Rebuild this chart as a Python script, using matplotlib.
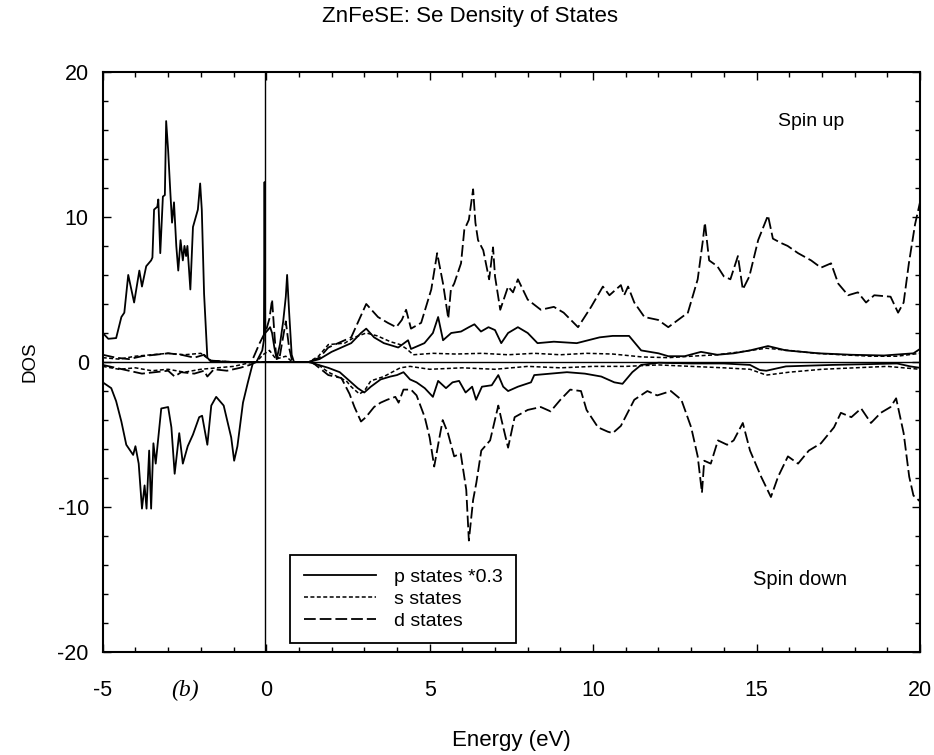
import numpy as np
import matplotlib
matplotlib.use("Agg")
import matplotlib.pyplot as plt
from matplotlib.ticker import MultipleLocator

plt.rcParams['font.family'] = ['Liberation Sans', 'DejaVu Sans']
plt.rcParams['axes.unicode_minus'] = False

# Se partial densities of states in ZnFeSe, (energy eV, DOS) pairs
p_up = [(-5.0, 2.0), (-4.83, 1.6), (-4.59, 1.65), (-4.43, 3.1), (-4.34, 3.4), (-4.22, 6.0),
        (-4.04, 4.1), (-3.88, 6.3), (-3.80, 5.2), (-3.67, 6.6), (-3.52, 7.0), (-3.48, 7.2),
        (-3.43, 10.5), (-3.33, 10.7), (-3.30, 11.2), (-3.24, 7.5), (-3.16, 11.4), (-3.10, 11.5),
        (-3.06, 16.6), (-3.00, 14.6), (-2.93, 11.6), (-2.88, 9.6), (-2.82, 11.0), (-2.75, 8.0),
        (-2.69, 6.3), (-2.62, 8.4), (-2.55, 7.0), (-2.50, 8.0), (-2.45, 7.3), (-2.41, 8.0),
        (-2.32, 5.0), (-2.24, 9.3), (-2.09, 10.5), (-2.02, 12.3), (-1.97, 10.5), (-1.90, 4.7),
        (-1.80, 0.3), (-1.70, 0.05), (-1.0, 0.0), (-0.30, 0.0), (-0.12, 0.8), (-0.07, 1.5),
        (-0.05, 12.4), (-0.03, 2.0), (0.05, 2.2), (0.12, 2.4), (0.18, 2.0), (0.25, 1.0),
        (0.32, 0.2), (0.42, 1.2), (0.52, 2.8), (0.60, 4.5), (0.64, 6.0), (0.70, 3.5),
        (0.78, 0.5), (0.85, 0.0), (1.30, 0.0), (1.63, 0.2), (2.0, 0.7), (2.3, 1.0),
        (2.6, 1.3), (2.9, 2.0), (3.06, 2.3), (3.3, 1.7), (3.6, 1.3), (4.04, 1.0),
        (4.34, 1.5), (4.43, 0.9), (4.84, 1.3), (5.1, 2.0), (5.26, 3.1), (5.41, 1.5),
        (5.66, 2.0), (5.96, 2.1), (6.2, 2.4), (6.37, 2.6), (6.57, 2.1), (6.8, 2.4),
        (7.0, 2.2), (7.19, 1.3), (7.4, 2.0), (7.7, 2.4), (8.0, 2.0), (8.3, 1.3),
        (8.8, 1.4), (9.5, 1.3), (10.2, 1.7), (10.6, 1.8), (11.1, 1.8), (11.47, 0.8),
        (12.0, 0.6), (12.3, 0.4), (12.8, 0.4), (13.3, 0.7), (13.8, 0.5), (14.3, 0.6),
        (14.8, 0.8), (15.35, 1.1), (15.9, 0.8), (16.4, 0.7), (16.9, 0.6), (17.9, 0.5),
        (18.9, 0.45), (19.8, 0.6), (20.0, 0.9)]

s_up = [(-5.0, 0.3), (-4.5, 0.2), (-4.0, 0.4), (-3.5, 0.5), (-3.0, 0.6), (-2.5, 0.5),
        (-2.0, 0.6), (-1.7, 0.1), (-1.0, 0.0), (-0.3, 0.0), (-0.1, 0.5), (0.1, 0.8),
        (0.3, 0.2), (0.6, 0.4), (0.8, 0.0), (1.3, 0.0), (1.6, 0.4), (1.9, 1.2),
        (2.4, 1.3), (2.7, 1.7), (3.06, 2.0), (3.4, 1.8), (3.8, 1.4), (4.1, 1.2),
        (4.3, 0.9), (4.5, 0.5), (5.1, 0.6), (5.8, 0.55), (6.6, 0.6), (7.4, 0.5),
        (8.2, 0.6), (9.0, 0.5), (9.8, 0.6), (10.6, 0.55), (11.5, 0.35), (12.3, 0.3),
        (13.0, 0.4), (13.8, 0.5), (14.5, 0.7), (15.3, 0.95), (16.0, 0.8), (16.8, 0.6),
        (17.6, 0.5), (18.5, 0.4), (19.3, 0.4), (20.0, 0.6)]

d_up = [(-5.0, 0.5), (-4.6, 0.3), (-4.2, 0.2), (-3.8, 0.4), (-3.4, 0.5), (-3.0, 0.6),
        (-2.6, 0.5), (-2.2, 0.3), (-1.9, 0.5), (-1.7, 0.1), (-1.0, 0.0), (-0.45, 0.0),
        (-0.2, 1.3), (0.0, 2.2), (0.1, 3.0), (0.18, 4.3), (0.25, 2.0), (0.30, 0.5),
        (0.40, 0.2), (0.50, 1.5), (0.60, 2.8), (0.70, 1.0), (0.80, 0.0), (1.3, 0.0),
        (1.63, 0.3), (1.9, 1.0), (2.3, 1.4), (2.6, 1.7), (2.8, 2.7), (3.06, 4.0),
        (3.42, 3.1), (3.72, 2.7), (3.98, 2.4), (4.15, 2.9), (4.28, 3.6), (4.43, 2.3),
        (4.74, 2.7), (5.05, 5.0), (5.23, 7.5), (5.41, 5.4), (5.57, 3.0), (5.65, 5.0),
        (5.75, 5.4), (5.96, 6.8), (6.06, 9.1), (6.2, 9.8), (6.33, 11.9), (6.40, 9.6),
        (6.48, 8.4), (6.64, 7.7), (6.82, 5.7), (6.94, 7.9), (7.0, 5.9), (7.16, 3.6),
        (7.4, 5.2), (7.55, 4.8), (7.7, 5.7), (8.0, 4.3), (8.4, 3.6), (8.8, 3.8),
        (9.1, 3.4), (9.54, 2.4), (9.94, 3.8), (10.3, 5.2), (10.5, 4.6), (10.85, 5.3),
        (10.95, 4.6), (11.07, 5.2), (11.26, 4.1), (11.57, 3.1), (11.99, 2.9), (12.3, 2.4),
        (12.6, 2.9), (12.9, 3.4), (13.2, 5.7), (13.36, 8.4), (13.42, 9.6), (13.55, 7.0),
        (13.8, 6.6), (14.0, 5.9), (14.2, 5.7), (14.43, 7.3), (14.58, 5.0), (14.78, 5.9),
        (15.05, 8.4), (15.35, 10.1), (15.5, 8.5), (15.75, 8.2), (15.95, 8.0), (16.27, 7.5),
        (16.67, 7.0), (16.97, 6.5), (17.28, 6.8), (17.5, 5.4), (17.8, 4.6), (18.1, 4.8),
        (18.35, 4.1), (18.6, 4.6), (19.1, 4.5), (19.33, 3.4), (19.5, 4.1), (19.66, 6.8),
        (19.85, 9.5), (20.0, 11.0)]

p_down = [(-5.0, -1.4), (-4.74, -1.8), (-4.59, -2.7), (-4.43, -4.1), (-4.28, -5.7), (-4.07, -6.4),
          (-4.0, -5.8), (-3.9, -7.0), (-3.8, -10.1), (-3.72, -8.5), (-3.66, -10.1), (-3.58, -6.1),
          (-3.52, -10.1), (-3.45, -5.6), (-3.38, -7.0), (-3.21, -3.2), (-3.0, -3.1), (-2.9, -4.5),
          (-2.8, -7.7), (-2.66, -4.9), (-2.55, -7.0), (-2.4, -5.8), (-2.24, -5.0), (-2.05, -3.8),
          (-1.96, -3.7), (-1.80, -5.7), (-1.68, -3.0), (-1.53, -2.4), (-1.3, -3.0), (-1.07, -5.2),
          (-0.98, -6.8), (-0.88, -5.8), (-0.71, -2.8), (-0.56, -1.4), (-0.4, 0.0), (1.3, 0.0),
          (1.9, -0.4), (2.25, -0.7), (2.5, -1.2), (2.8, -1.8), (3.0, -2.1), (3.2, -1.7),
          (3.5, -1.2), (3.8, -1.0), (4.0, -0.9), (4.2, -0.7), (4.4, -1.2), (4.6, -1.4),
          (4.85, -1.8), (5.1, -2.4), (5.26, -1.3), (5.5, -1.8), (5.7, -1.4), (5.9, -1.3),
          (6.1, -2.1), (6.3, -1.7), (6.42, -2.6), (6.6, -1.7), (6.9, -1.6), (7.1, -0.9),
          (7.25, -1.7), (7.4, -2.0), (7.7, -1.7), (8.1, -1.4), (8.2, -0.9), (8.7, -0.8),
          (9.2, -0.7), (9.75, -0.8), (10.25, -1.0), (10.65, -1.4), (10.9, -1.5), (11.2, -0.7),
          (11.47, -0.2), (12.0, -0.05), (13.0, -0.1), (14.0, -0.1), (14.8, -0.2), (15.1, -0.55),
          (15.3, -0.6), (15.9, -0.3), (17.3, -0.2), (19.3, -0.1), (19.7, -0.3), (20.0, -0.4)]

s_down = [(-5.0, -0.3), (-4.5, -0.5), (-4.0, -0.4), (-3.5, -0.6), (-3.0, -0.5), (-2.5, -0.7),
          (-2.0, -0.5), (-1.5, -0.4), (-1.0, -0.3), (-0.4, 0.0), (1.3, 0.0), (1.6, -0.2),
          (1.9, -0.7), (2.45, -1.3), (2.6, -1.7), (2.85, -2.2), (3.0, -2.0), (3.2, -1.3),
          (3.6, -1.0), (4.1, -0.4), (4.4, -0.3), (5.0, -0.5), (6.0, -0.4), (7.0, -0.5),
          (8.0, -0.3), (9.0, -0.4), (10.0, -0.3), (11.0, -0.3), (12.0, -0.2), (13.0, -0.3),
          (14.0, -0.4), (14.8, -0.5), (15.3, -0.9), (16.0, -0.7), (17.0, -0.5), (18.0, -0.4),
          (19.0, -0.3), (20.0, -0.5)]

d_down = [(-5.0, -0.2), (-4.6, -0.4), (-4.2, -0.6), (-3.8, -0.8), (-3.4, -0.7), (-3.0, -0.6),
          (-2.8, -1.0), (-2.6, -0.7), (-2.2, -0.8), (-1.9, -0.6), (-1.8, -1.0), (-1.6, -0.5),
          (-1.2, -0.6), (-0.8, -0.4), (-0.5, -0.2), (-0.3, 0.0), (1.4, 0.0), (1.9, -0.9),
          (2.3, -1.1), (2.55, -2.2), (2.7, -3.1), (2.9, -4.1), (3.05, -3.8), (3.3, -3.1),
          (3.5, -2.8), (3.7, -2.6), (3.95, -2.4), (4.05, -2.8), (4.2, -1.9), (4.43, -1.9),
          (4.6, -2.3), (4.85, -3.8), (5.0, -5.2), (5.14, -7.2), (5.3, -5.2), (5.4, -4.0),
          (5.56, -4.9), (5.75, -6.5), (5.95, -6.3), (6.12, -8.8), (6.2, -12.3), (6.33, -9.5),
          (6.43, -8.3), (6.58, -6.1), (6.85, -5.4), (7.1, -3.0), (7.2, -4.0), (7.4, -5.9),
          (7.6, -3.8), (8.0, -3.3), (8.4, -3.1), (8.7, -3.4), (9.0, -2.6), (9.3, -1.9),
          (9.63, -2.0), (9.8, -3.3), (10.15, -4.5), (10.45, -4.8), (10.6, -4.9), (10.85, -4.4),
          (11.26, -2.6), (11.66, -2.0), (11.96, -2.3), (12.38, -2.0), (12.7, -2.6), (13.0, -4.5),
          (13.2, -6.5), (13.33, -9.0), (13.4, -6.8), (13.6, -7.0), (13.82, -5.4), (14.1, -5.7),
          (14.3, -5.4), (14.58, -4.2), (14.8, -6.1), (15.14, -7.9), (15.44, -9.3), (15.66, -7.9),
          (15.96, -6.5), (16.27, -7.0), (16.6, -6.1), (16.97, -5.6), (17.37, -4.5), (17.58, -3.5),
          (17.9, -3.8), (18.2, -3.2), (18.5, -4.2), (18.8, -3.5), (19.1, -3.1), (19.27, -2.5),
          (19.5, -4.9), (19.67, -7.9), (19.8, -9.2), (20.0, -9.6)]

fermi_level = -0.05
labels = ["p states *0.3", "s states", "d states"]

solid = '-'
short_dash = (0, (2.6, 1.6))
long_dash = (0, (6.5, 2.2))

fig = plt.figure(figsize=(9.34, 7.55), dpi=100)
ax = fig.add_axes([0.110, 0.136, 0.875, 0.769])

def draw(series, ls, label=None, lw=1.3):
    e, d = np.array(series).T
    ax.plot(e, d, color='black', linestyle=ls, linewidth=lw, label=label)

draw(p_up, solid, labels[0])
draw(s_up, short_dash, labels[1], lw=1.1)
draw(d_up, long_dash, labels[2])
draw(p_down, solid)
draw(s_down, short_dash, lw=1.1)
draw(d_down, long_dash)

ax.axhline(0, color='black', linewidth=1.0)
ax.axvline(fermi_level, color='black', linewidth=1.0)

ax.set_xlim(-5, 20)
ax.set_ylim(-20, 20)
ax.xaxis.set_major_locator(MultipleLocator(5))
ax.xaxis.set_minor_locator(MultipleLocator(1))
ax.yaxis.set_major_locator(MultipleLocator(10))
ax.yaxis.set_minor_locator(MultipleLocator(2))
ax.tick_params(which='both', direction='in', top=True, right=True, labelsize=15.5, width=1.0)
ax.tick_params(which='major', length=6)
ax.tick_params(axis='x', which='major', pad=20)
ax.tick_params(axis='y', which='major', pad=10)
ax.tick_params(which='minor', length=3.5)
for s in ax.spines.values():
    s.set_linewidth(1.5)

ax.set_xlabel("Energy (eV)", fontsize=16)
ax.xaxis.set_label_coords(0.5, -0.134)
ax.set_ylabel("DOS", fontsize=13.5, labelpad=14)
fig.text(0.503, 0.978, "ZnFeSE: Se Density of States", ha='center', va='center', fontsize=16)

ax.text(0.867, 0.915, "Spin up", transform=ax.transAxes, ha='center', va='center', fontsize=14)
ax.text(0.853, 0.126, "Spin down", transform=ax.transAxes, ha='center', va='center', fontsize=14.5)
fig.text(0.198, 0.086, "(b)", ha='center', va='center', fontsize=17, style='italic',
         family=['Liberation Serif', 'DejaVu Serif'])

leg = ax.legend(loc='lower left', bbox_to_anchor=(0.229, 0.0155), borderaxespad=0,
                fontsize=14, handlelength=3.75, labelspacing=0.22, handletextpad=0.9,
                borderpad=0.7, fancybox=False, framealpha=1, edgecolor='black')
leg.get_frame().set_linewidth(1.3)

fig.savefig("out.png", dpi=100)
